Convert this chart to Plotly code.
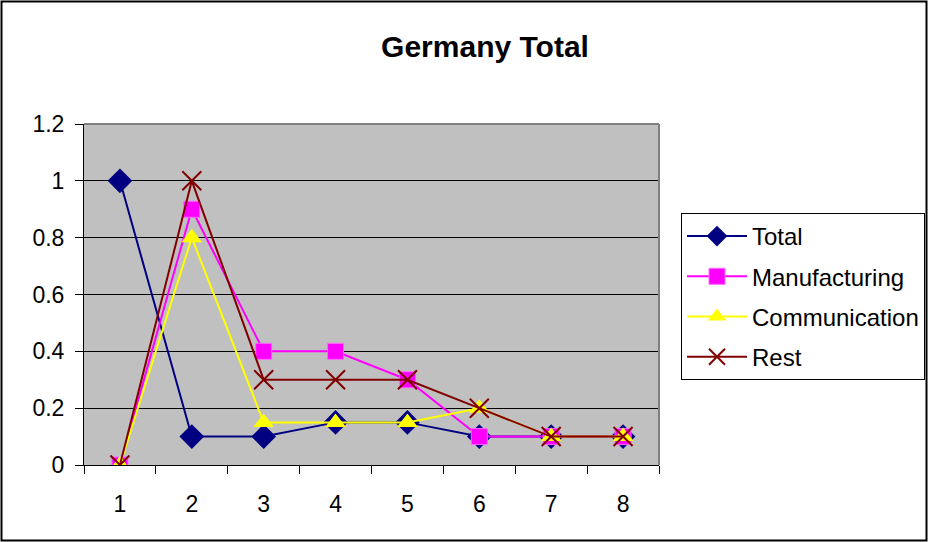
import plotly.graph_objects as go

categories = ["1", "2", "3", "4", "5", "6", "7", "8"]
total = [1.0, 0.1, 0.1, 0.15, 0.15, 0.1, 0.1, 0.1]
manufacturing = [0.0, 0.9, 0.4, 0.4, 0.3, 0.1, 0.1, 0.1]
communication = [0.0, 0.8, 0.15, 0.15, 0.15, 0.2, 0.1, 0.1]
rest = [0.0, 1.0, 0.3, 0.3, 0.3, 0.2, 0.1, 0.1]
y_ticks = [0, 0.2, 0.4, 0.6, 0.8, 1.0, 1.2]
y_tick_labels = ["0", "0.2", "0.4", "0.6", "0.8", "1", "1.2"]

W, H = 928, 542
L, R, T, B = 84, 269, 124, 77
pw, ph = W - L - R, H - T - B
FONT = "Liberation Sans, Arial, sans-serif"

fig = go.Figure()
series = [
    ("Total", total, "#000080", dict(symbol="diamond", size=19, color="#000080",
                                     line=dict(width=0))),
    ("Manufacturing", manufacturing, "#FF00FF", dict(symbol="square", size=16, color="#FF00FF",
                                                     line=dict(width=1, color="#FF66FF"))),
    ("Communication", communication, "#FFFF00", dict(symbol="triangle-up", size=18, color="#FFFF00",
                                                     line=dict(width=0))),
    ("Rest", rest, "#800000", dict(symbol="x-thin-open", size=19,
                                   line=dict(width=2, color="#800000"))),
]
for name, vals, col, mk in series:
    fig.add_trace(go.Scatter(x=categories, y=vals, name=name, mode="lines+markers",
                             line=dict(color=col, width=2), marker=mk,
                             legendgroup=name))

fig.update_layout(
    width=W, height=H, autosize=False,
    margin=dict(l=L, r=R, t=T, b=B, autoexpand=False),
    paper_bgcolor="white", plot_bgcolor="#C0C0C0",
    font=dict(family=FONT, size=23, color="black"),
    title=dict(text="<b>Germany Total</b>", x=485 / W, xanchor="center",
               y=1 - 46 / H, yanchor="middle", yref="container",
               font=dict(size=30, family=FONT)),
    showlegend=True,
    legend=dict(xref="container", yref="container",
                x=681 / W, y=1 - 213 / H, xanchor="left", yanchor="top",
                bgcolor="white", bordercolor="black", borderwidth=1,
                font=dict(size=24), traceorder="grouped", tracegroupgap=6,
                itemwidth=60),
    xaxis=dict(type="category", tickson="boundaries", ticks="outside", ticklen=8,
               tickcolor="black", showgrid=False, showline=True, linecolor="black",
               linewidth=1, mirror=False, range=[-0.5, 7.5], ticklabelstandoff=18,
               zeroline=False),
    yaxis=dict(range=[0, 1.2], tickvals=y_ticks, ticktext=y_tick_labels,
               ticks="outside", ticklen=8, tickcolor="black", showgrid=True,
               gridcolor="black", gridwidth=1, showline=True, linecolor="black",
               linewidth=1, mirror=False, zeroline=False, ticklabelstandoff=6),
)

# plot area top and right edges (grey)
fig.add_shape(type="line", xref="paper", yref="paper", x0=0, x1=1, y0=1, y1=1,
              line=dict(color="#808080", width=2))
fig.add_shape(type="line", xref="paper", yref="paper", x0=1, x1=1, y0=0, y1=1,
              line=dict(color="#808080", width=2))

# outer chart border
fig.add_shape(type="rect", xref="paper", yref="paper",
              x0=(1.5 - L) / pw, x1=(W - 1.5 - L) / pw,
              y0=(H - B - (H - 1.5)) / ph, y1=(H - B - 1.5) / ph,
              line=dict(color="black", width=2), layer="below")

fig.write_html(
    "out.html",
    config={"displayModeBar": False, "responsive": False},
    default_width=f"{W}px", default_height=f"{H}px",
    post_script="document.body.style.margin='0px';document.body.style.overflow='hidden';"
                "document.documentElement.style.overflow='hidden';",
)
